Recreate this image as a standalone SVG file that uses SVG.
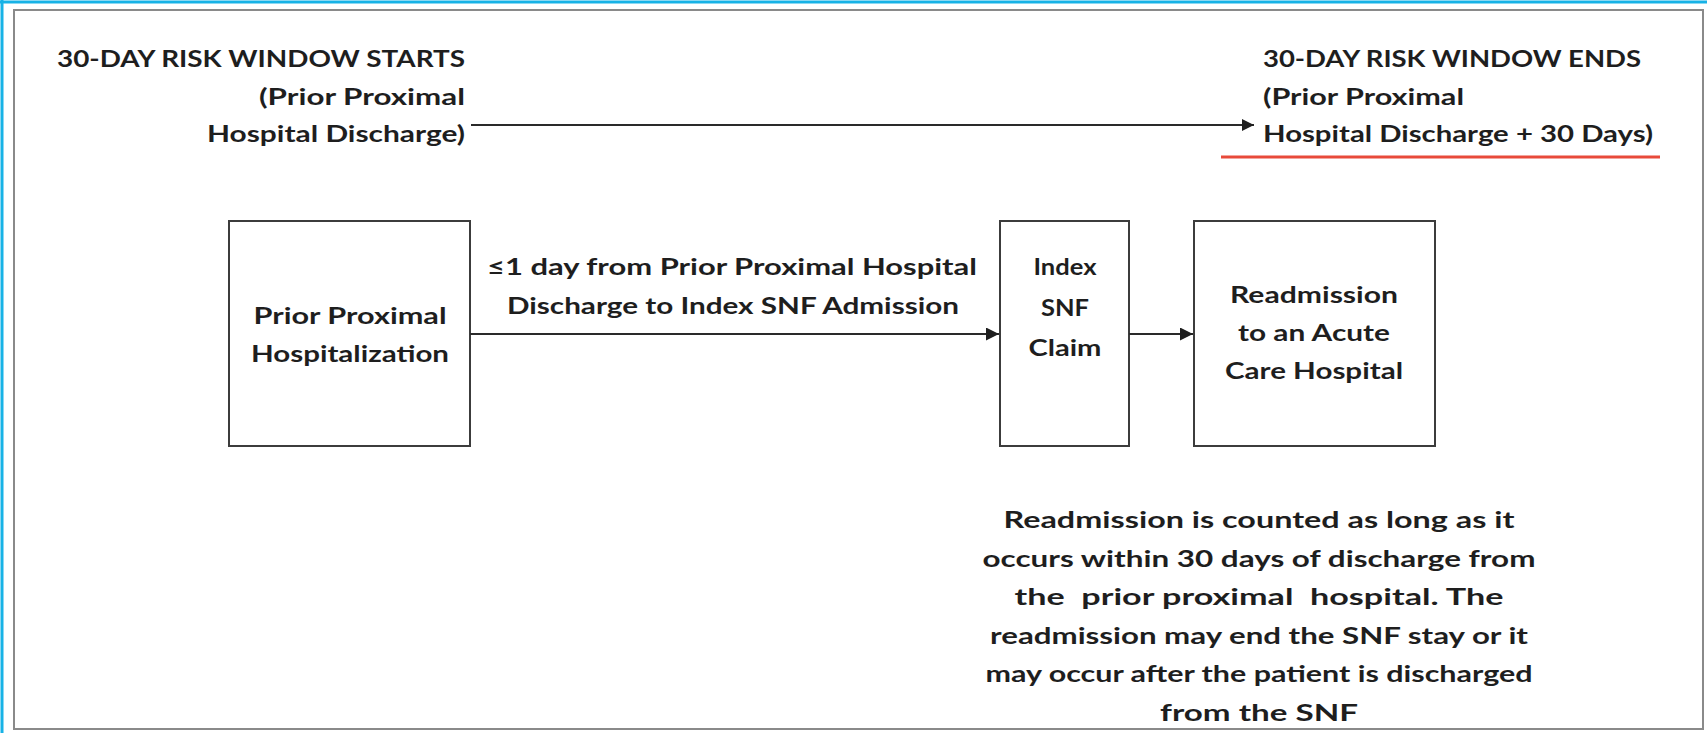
<svg xmlns="http://www.w3.org/2000/svg" width="1707" height="733" viewBox="0 0 1707 733">
<style>
text{font-family:Lato,"Open Sans","Liberation Sans",sans-serif;font-weight:bold;font-size:23px;fill:#1e1e1e}
.c{text-anchor:middle}
.r{text-anchor:end}
.pre{white-space:pre}
.box{fill:#fff;stroke:#3c3c3c;stroke-width:2}
.ln{stroke:#2a2a2a;stroke-width:2;fill:none}
</style>
<defs>
<marker id="ah" viewBox="0 0 10 10" refX="10" refY="5" markerWidth="12" markerHeight="12" markerUnits="userSpaceOnUse" orient="auto"><path d="M0,0 L10,5 L0,10 z" fill="#1e1e1e"/></marker>
<marker id="ah2" viewBox="0 0 10 10" refX="10" refY="5" markerWidth="13" markerHeight="13" markerUnits="userSpaceOnUse" orient="auto"><path d="M0,0 L10,5 L0,10 z" fill="#1e1e1e"/></marker>
</defs>
<rect width="1707" height="733" fill="#fff"/>
<line x1="0" y1="2" x2="1707" y2="2" stroke="#17b2e6" stroke-width="3"/>
<line x1="2" y1="0" x2="2" y2="733" stroke="#17b2e6" stroke-width="3"/>
<rect x="14" y="10" width="1689" height="719" fill="none" stroke="#8a8a8a" stroke-width="2"/>
<g id="start-label">
<text x="57" y="67" textLength="408" lengthAdjust="spacingAndGlyphs">30-DAY RISK WINDOW STARTS</text>
<text class="r" x="465" y="105" textLength="206" lengthAdjust="spacingAndGlyphs">(Prior Proximal</text>
<text class="r" x="465" y="142" textLength="258" lengthAdjust="spacingAndGlyphs">Hospital Discharge)</text>
</g>
<g id="end-label">
<text x="1263" y="67" textLength="378" lengthAdjust="spacingAndGlyphs">30-DAY RISK WINDOW ENDS</text>
<text x="1263" y="105" textLength="201" lengthAdjust="spacingAndGlyphs">(Prior Proximal</text>
<text x="1263" y="142" textLength="390" lengthAdjust="spacingAndGlyphs">Hospital Discharge + 30 Days)</text>
<line x1="1221" y1="157" x2="1660" y2="157" stroke="#e84a3a" stroke-width="3"/>
</g>
<g id="prior">
<rect class="box" x="229" y="221" width="241" height="225"/>
<text class="c" x="350" y="324" textLength="193" lengthAdjust="spacingAndGlyphs">Prior Proximal</text>
<text class="c" x="350" y="362" textLength="198" lengthAdjust="spacingAndGlyphs">Hospitalization</text>
</g>
<g id="index">
<rect class="box" x="1000" y="221" width="129" height="225"/>
<text class="c" x="1065" y="275" textLength="63" lengthAdjust="spacingAndGlyphs">Index</text>
<text class="c" x="1065" y="316" textLength="48" lengthAdjust="spacingAndGlyphs">SNF</text>
<text class="c" x="1065" y="356" textLength="73" lengthAdjust="spacingAndGlyphs">Claim</text>
</g>
<g id="readmission">
<rect class="box" x="1194" y="221" width="241" height="225"/>
<text class="c" x="1314" y="303" textLength="168" lengthAdjust="spacingAndGlyphs">Readmission</text>
<text class="c" x="1314" y="341" textLength="152" lengthAdjust="spacingAndGlyphs">to an Acute</text>
<text class="c" x="1314" y="379" textLength="178" lengthAdjust="spacingAndGlyphs">Care Hospital</text>
</g>
<g id="connectors">
<line class="ln" x1="471" y1="125" x2="1254" y2="125" marker-end="url(#ah)"/>
<line class="ln" x1="470" y1="334" x2="999" y2="334" marker-end="url(#ah2)"/>
<line class="ln" x1="1129" y1="334" x2="1193" y2="334" marker-end="url(#ah2)"/>
<text class="c" x="732" y="275" textLength="490" lengthAdjust="spacingAndGlyphs">≤1 day from Prior Proximal Hospital</text>
<text class="c" x="733" y="314" textLength="452" lengthAdjust="spacingAndGlyphs">Discharge to Index SNF Admission</text>
</g>
<g id="note">
<text class="c" x="1259" y="528" textLength="511" lengthAdjust="spacingAndGlyphs">Readmission is counted as long as it</text>
<text class="c" x="1259" y="567" textLength="553" lengthAdjust="spacingAndGlyphs">occurs within 30 days of discharge from</text>
<text class="c pre" x="1259" y="605" textLength="489" lengthAdjust="spacingAndGlyphs">the  prior proximal  hospital. The</text>
<text class="c" x="1259" y="644" textLength="538" lengthAdjust="spacingAndGlyphs">readmission may end the SNF stay or it</text>
<text class="c" x="1259" y="682" textLength="547" lengthAdjust="spacingAndGlyphs">may occur after the patient is discharged</text>
<text class="c" x="1259" y="721" textLength="198" lengthAdjust="spacingAndGlyphs">from the SNF</text>
</g>
</svg>
